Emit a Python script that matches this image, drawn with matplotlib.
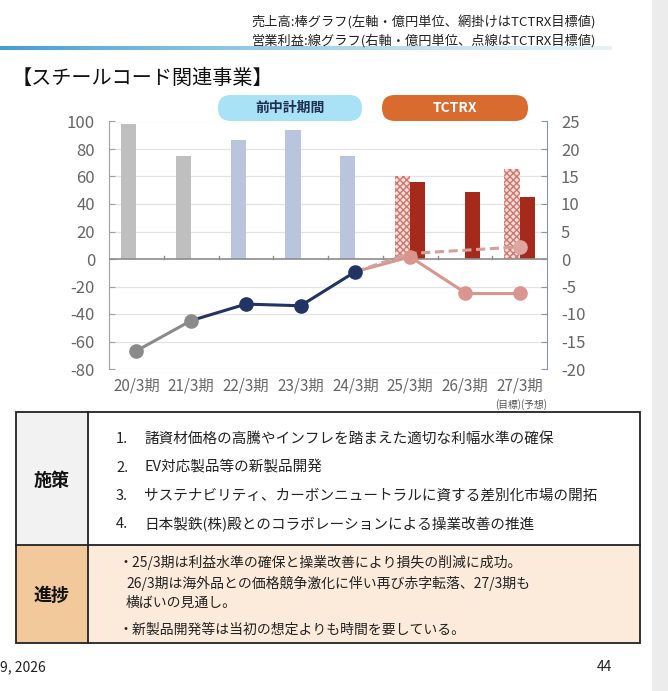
import numpy as np
import matplotlib
matplotlib.use("Agg")
import matplotlib.pyplot as plt
from matplotlib.patches import Rectangle, FancyBboxPatch

plt.rcParams['font.family'] = ['Noto Sans CJK JP', 'DejaVu Sans']
plt.rcParams['hatch.linewidth'] = 1.0
plt.rcParams['axes.unicode_minus'] = False

# Daten
categories = ['20/3期', '21/3期', '22/3期', '23/3期', '24/3期', '25/3期', '26/3期', '27/3期']
sales_actual = [98, 75, 86.5, 94, 75, 56, 48.5, 45]          # 億円, linke Achse
sales_target = [None, None, None, None, None, 60, None, 65.5]  # TCTRX目標 (網掛け)
profit_actual = [-16.7, -11.2, -8.2, -8.5, -2.3, 0.4, -6.1, -6.1]  # 億円, rechte Achse
profit_target = [None, None, None, None, -2.3, 1.0, None, 2.2]     # TCTRX目標 (点線)
left_ticks = [100, 80, 60, 40, 20, 0, -20, -40, -60, -80]
right_ticks = [25, 20, 15, 10, 5, 0, -5, -10, -15, -20]

W, H = 668, 691
fig = plt.figure(figsize=(W / 100, H / 100), dpi=100)

# Hintergrund-Achse in Pixelkoordinaten
bg = fig.add_axes([0, 0, 1, 1])
bg.axis('off')

bg.add_patch(Rectangle((652, 0), 16, H, color='#ececec', lw=0))

# Kopfzeile
bg.text(596, 22, '売上高:棒グラフ(左軸・億円単位、網掛けはTCTRX目標値)', ha='right', va='center',
        fontsize=9.5, color='#222222')
bg.text(596, 41, '営業利益:線グラフ(右軸・億円単位、点線はTCTRX目標値)', ha='right', va='center',
        fontsize=9.5, color='#222222')
grad = np.linspace(0, 1, 256)
img = np.zeros((1, 256, 4))
img[0, :, 0] = 0.25 + 0.55 * grad
img[0, :, 1] = 0.62 + 0.28 * grad
img[0, :, 2] = 0.83 + 0.12 * grad
img[0, :, 3] = 1.0 - 0.5 * grad
bg.imshow(img, extent=(0, 612, 50, 46), aspect='auto')
bg.set_xlim(0, W)
bg.set_ylim(H, 0)

bg.text(12, 78, '【スチールコード関連事業】', ha='left', va='center', fontsize=14.5, color='#111111')

# Pillen
bg.add_patch(FancyBboxPatch((218, 95), 144, 26, boxstyle='round,pad=0,rounding_size=13',
                            fc='#a9e1f6', ec='none'))
bg.text(290, 108, '前中計期間', ha='center', va='center', fontsize=10, fontweight='bold', color='#1f3050')
bg.add_patch(FancyBboxPatch((382, 95), 146, 26, boxstyle='round,pad=0,rounding_size=13',
                            fc='#d96b2e', ec='none'))
bg.text(455, 108, 'TCTRX', ha='center', va='center', fontsize=10, fontweight='bold', color='white')

# Tabelle
bg.add_patch(Rectangle((16, 412), 72, 133, fc='#f2f2f2', ec='none'))
bg.add_patch(Rectangle((88, 412), 552, 133, fc='white', ec='none'))
bg.add_patch(Rectangle((16, 545), 72, 98, fc='#f1c99a', ec='none'))
bg.add_patch(Rectangle((88, 545), 552, 98, fc='#fcebdb', ec='none'))
bg.add_patch(Rectangle((16, 412), 624, 231, fc='none', ec='#222222', lw=1.3))
bg.plot([88, 88], [412, 643], color='#222222', lw=1.3)
bg.plot([16, 640], [545, 545], color='#222222', lw=1.3)

bg.text(52, 480, '施策', ha='center', va='center', fontsize=13, fontweight='bold', color='#111111')
bg.text(52, 595, '進捗', ha='center', va='center', fontsize=13, fontweight='bold', color='#111111')

items = ['諸資材価格の高騰やインフレを踏まえた適切な利幅水準の確保',
         'EV対応製品等の新製品開発',
         'サステナビリティ、カーボンニュートラルに資する差別化市場の開拓',
         '日本製鉄(株)殿とのコラボレーションによる操業改善の推進']
for i, t in enumerate(items):
    y = 439 + i * 28.5
    bg.text(116, y, f'{i + 1}.', ha='left', va='center', fontsize=10.5, color='#222222')
    bg.text(144, y, t, ha='left', va='center', fontsize=10.5, color='#222222')

progress = [(118, 562, '・25/3期は利益水準の確保と操業改善により損失の削減に成功。'),
            (126, 583, '26/3期は海外品との価格競争激化に伴い再び赤字転落、27/3期も'),
            (126, 603, '横ばいの見通し。'),
            (118, 630, '・新製品開発等は当初の想定よりも時間を要している。')]
for x, y, t in progress:
    bg.text(x, y, t, ha='left', va='center', fontsize=10, color='#222222')

bg.text(0, 667, '9, 2026', ha='left', va='center', fontsize=10, color='#222222')
bg.text(612, 667, '44', ha='right', va='center', fontsize=10, color='#222222')

# Diagramm
ax = fig.add_axes([109 / W, 1 - 369 / H, 438 / W, 247.5 / H])
ax.patch.set_alpha(0)
ax2 = ax.twinx()
ax.set_zorder(2)
ax2.set_zorder(3)

x = np.arange(len(categories))
bw = 0.28
bar_colors = ['#bfbfbf', '#bfbfbf', '#b8c5dd', '#b8c5dd', '#b8c5dd', '#a52a1c', '#a52a1c', '#a52a1c']
for i, v in enumerate(sales_actual):
    off = -bw / 2 if i < 5 else bw / 2
    ax.bar(x[i] + off, v, width=bw, color=bar_colors[i], zorder=3)
for i, v in enumerate(sales_target):
    if v is None:
        continue
    ax.bar(x[i] - bw / 2, v, width=bw, facecolor='#f6dedb', edgecolor='#d0766d',
           hatch='xxxxx', linewidth=0, zorder=3)

ax.set_xlim(-0.5, len(categories) - 0.5)
ax.set_ylim(-80, 100)
ax.set_yticks(left_ticks)
for t in left_ticks:
    if t != 0:
        ax.axhline(t, color='#e3e3e3', lw=0.9, zorder=1)
ax.axhline(0, color='#8c8c8c', lw=1.2, zorder=4)
for b in np.arange(0.5, len(categories) - 0.5, 1):
    ax.plot([b, b], [0, 2.2], color='#8c8c8c', lw=1, zorder=4)

ax.set_xticks(x)
ax.set_xticklabels(categories)
ax.tick_params(axis='x', length=0, pad=6, labelsize=11, labelcolor='#666666')
ax.tick_params(axis='y', direction='in', length=4, color='#a0a0a0', labelsize=12,
               labelcolor='#666666', pad=10)
for s in ['top', 'bottom']:
    ax.spines[s].set_visible(False)
ax.spines['left'].set_color('#a0a0a0')
ax.spines['right'].set_visible(False)

ax2.set_ylim(-20, 25)
ax2.set_yticks(right_ticks)
ax2.tick_params(axis='y', direction='in', length=4, color='#8496b0', labelsize=12,
                labelcolor='#666666', pad=10)
for s in ['top', 'bottom', 'left']:
    ax2.spines[s].set_visible(False)
ax2.spines['right'].set_color('#8496b0')

# 営業利益 Linien
gray, navy, pink = '#8a8a8a', '#223463', '#d9958e'
seg_colors = [gray, navy, navy, navy, pink, pink, pink]
for i in range(len(profit_actual) - 1):
    ax2.plot(x[i:i + 2], profit_actual[i:i + 2], color=seg_colors[i], lw=2.2, zorder=3)

tx = [x[i] for i, v in enumerate(profit_target) if v is not None]
ty = [v for v in profit_target if v is not None]
ax2.plot(tx, ty, color='#d4a09b', lw=2.2, ls=(0, (3, 1.5)), zorder=3)
ax2.plot(tx[-1], ty[-1], 'o', color='#dda6a1', ms=9.5, zorder=4)

mk_colors = [gray, gray, navy, navy, navy, pink, pink, pink]
for i, v in enumerate(profit_actual):
    ax2.plot(x[i], v, 'o', color=mk_colors[i], ms=9.5, zorder=5)

ax.text(x[-1] + 0.02, -105.5, '(目標)(予想)', ha='center', va='center', fontsize=7, color='#555555')

fig.savefig('out.png', dpi=100)
